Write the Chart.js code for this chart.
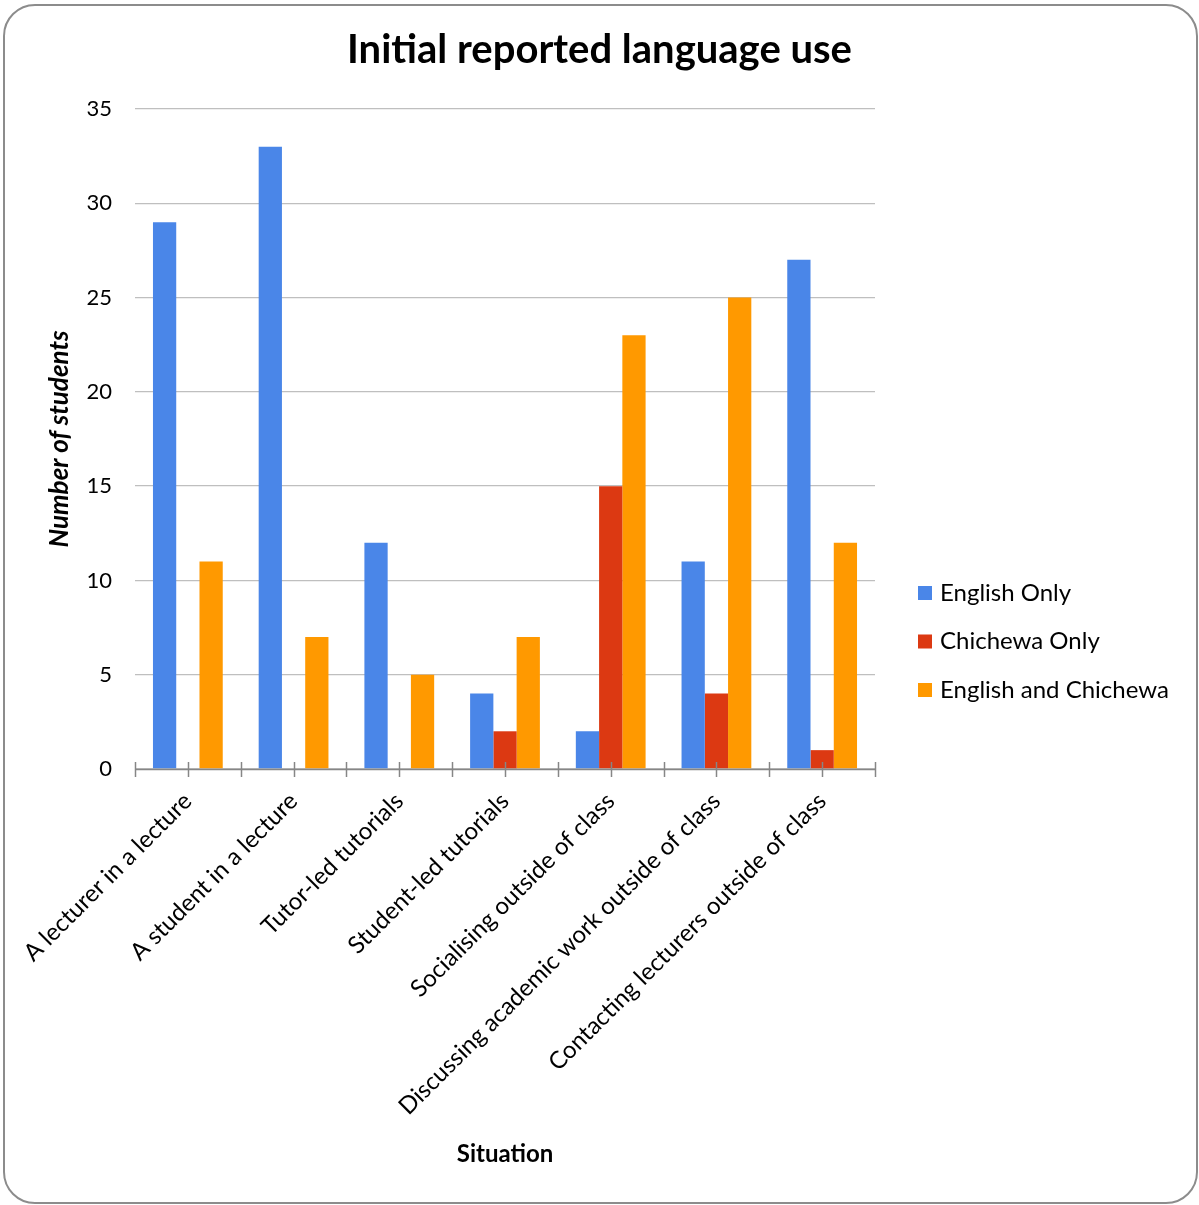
<!DOCTYPE html>
<html><head><meta charset="utf-8">
<script src="https://cdn.jsdelivr.net/npm/chart.js@4.4.0/dist/chart.umd.min.js"></script>
<style>
html,body{margin:0;padding:0;background:#fff;}
#wrap{position:relative;width:1199px;height:1205px;}
#frame{position:absolute;left:3px;top:4px;width:1191px;height:1196px;border:2px solid #8c8c8c;border-radius:32px;pointer-events:none;}
</style></head>
<body><div id="wrap"><canvas id="c" width="1199" height="1205"></canvas><div id="frame"></div></div>
<script>
const categories = ["A lecturer in a lecture","A student in a lecture","Tutor-led tutorials","Student-led tutorials","Socialising outside of class","Discussing academic work outside of class","Contacting lecturers outside of class"];
const englishOnly = [29, 33, 12, 4, 2, 11, 27];
const chichewaOnly = [0, 0, 0, 2, 15, 4, 1];
const englishAndChichewa = [11, 7, 5, 7, 23, 25, 12];
const seriesNames = ["English Only","Chichewa Only","English and Chichewa"];
const yTicks = [0,5,10,15,20,25,30,35];

const FONT = "Lato, 'Open Sans', sans-serif";

const axisTicks = {
  id: 'axisTicks',
  afterDatasetsDraw(chart){
    const x = chart.scales.x, ca = chart.chartArea, ctx = chart.ctx;
    ctx.save();
    ctx.strokeStyle = '#868686'; ctx.lineWidth = 1.5;
    ctx.beginPath(); ctx.moveTo(ca.left, ca.bottom+0.5); ctx.lineTo(ca.right, ca.bottom+0.5); ctx.stroke();
    const n = categories.length;
    for (let i = 0; i <= 2*n; i++) {
      const px = Math.round(x.getPixelForValue(i/2 - 0.5)) + 0.5;
      ctx.beginPath(); ctx.moveTo(px, ca.bottom-7); ctx.lineTo(px, ca.bottom+8); ctx.stroke();
    }
    ctx.restore();
  }
};

const sideLegend = {
  id: 'sideLegend',
  afterDraw(chart){
    const ctx = chart.ctx;
    ctx.save();
    ctx.font = "24px " + FONT;
    ctx.textBaseline = 'middle';
    ctx.textAlign = 'left';
    chart.data.datasets.forEach((ds, i) => {
      const yc = 593 + 48.5 * i;
      ctx.fillStyle = ds.backgroundColor;
      ctx.fillRect(918, yc - 7, 14, 14);
      ctx.fillStyle = '#000';
      ctx.fillText(ds.label, 940, yc);
    });
    ctx.restore();
  }
};

new Chart(document.getElementById('c'), {
  type: 'bar',
  data: {
    labels: categories,
    datasets: [
      {label: seriesNames[0], data: englishOnly, backgroundColor: '#4a86e8'},
      {label: seriesNames[1], data: chichewaOnly, backgroundColor: '#dc3912'},
      {label: seriesNames[2], data: englishAndChichewa, backgroundColor: '#ff9900'}
    ]
  },
  options: {
    responsive: false,
    animation: false,
    devicePixelRatio: 1,
    layout: {padding: {left: 0, right: 0, top: 0, bottom: 0}},
    datasets: {bar: {categoryPercentage: 0.66, barPercentage: 1.0, borderWidth: 0}},
    plugins: {
      title: {display: true, text: 'Initial reported language use', color: '#000',
        font: {family: FONT, size: 40, weight: 'bold'}, padding: {top: 26, bottom: 35}},
      legend: {display: false},
      tooltip: {enabled: false}
    },
    scales: {
      x: {
        grid: {display: false, drawTicks: false},
        border: {display: false},
        ticks: {color: '#000', font: {family: FONT, size: 24}, minRotation: 45, maxRotation: 45, autoSkip: false, padding: 18},
        title: {display: true, text: 'Situation', color: '#000', font: {family: FONT, size: 24, weight: 'bold'}, padding: {top: 0, bottom: 36}},
        afterFit(s){ s.height = 1205 - 769; }
      },
      y: {
        min: 0, max: 35,
        afterBuildTicks(s){ s.ticks = yTicks.map(v => ({value: v})); },
        grid: {color: '#bfbfbf', lineWidth: 1.3, drawTicks: false},
        border: {display: false},
        ticks: {color: '#000', font: {family: FONT, size: 22}, padding: 23},
        title: {display: true, text: 'Number of students', color: '#000', font: {family: FONT, size: 26, weight: 'bold', style: 'italic'}, padding: {top: 44, bottom: 0}},
        afterFit(s){ s.width = 135; }
      },
      legendSpace: {
        position: 'right', display: true,
        grid: {display: false, drawTicks: false}, border: {display: false},
        ticks: {display: false},
        afterFit(s){ s.width = 1199 - 875; }
      }
    }
  },
  plugins: [axisTicks, sideLegend]
});
</script></body></html>
